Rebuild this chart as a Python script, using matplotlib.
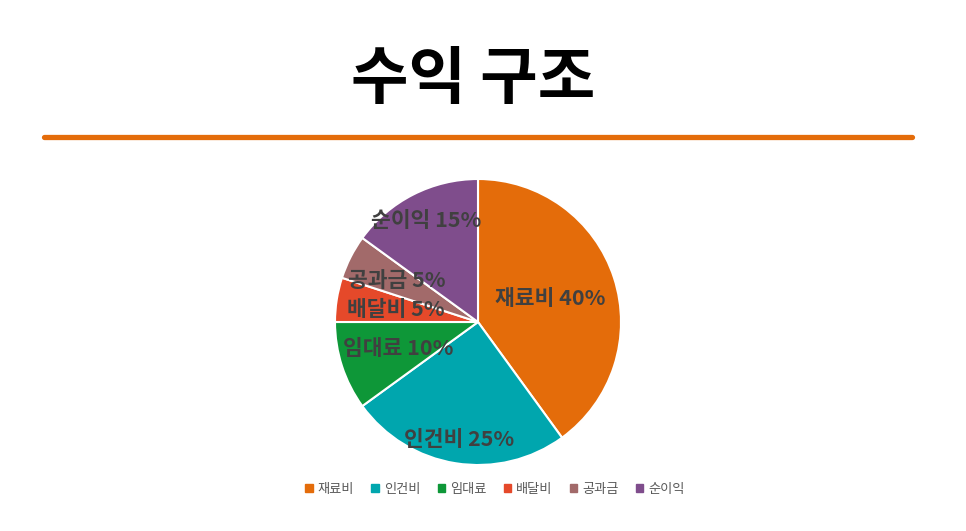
import matplotlib.pyplot as plt
from matplotlib.lines import Line2D
from matplotlib.patches import Patch
import numpy as np

plt.rcParams['font.family'] = ['Noto Sans CJK KR', 'DejaVu Sans']

# data
categories = ["재료비", "인건비", "임대료", "배달비", "공과금", "순이익"]
shares = [40, 25, 10, 5, 5, 15]
colors = ["#E46C0A", "#00A6AE", "#0E9738", "#E5492A", "#A26A6A", "#7F4D8C"]
title = "수익 구조"

# label distance from centre, as fraction of radius (layout only)
label_radius = [0.53, 0.83, 0.59, 0.58, 0.64, 0.80]

fig = plt.figure(figsize=(9.66, 5.31), dpi=100)
fig.patch.set_facecolor("white")

# title and divider line
fig.text(473 / 966, 1 - 80 / 531, title, ha="center", va="center",
         fontsize=45, fontweight="bold", color="black")
fig.add_artist(Line2D([44 / 966, 912 / 966], [1 - 137 / 531, 1 - 137 / 531],
                      color="#E46C0A", linewidth=3.8, solid_capstyle="round"))

# pie axes: centre (478, 322), radius 143 px
cx, cy, r = 478, 322, 143
ax = fig.add_axes([(cx - r) / 966, (531 - cy - r) / 531, 2 * r / 966, 2 * r / 531])
wedges, _ = ax.pie(shares, colors=colors, startangle=90, counterclock=False,
                   wedgeprops=dict(edgecolor="white", linewidth=1.5))
ax.set_xlim(-1, 1)
ax.set_ylim(-1, 1)
ax.set_aspect("equal")
ax.axis("off")

for w, name, val, d in zip(wedges, categories, shares, label_radius):
    ang = np.deg2rad((w.theta1 + w.theta2) / 2)
    ax.text(d * np.cos(ang), d * np.sin(ang), f"{name} {val}%",
            ha="center", va="center", fontsize=15.5, fontweight="bold",
            color="#404040")

# legend
handles = [Patch(facecolor=c, edgecolor=c) for c in colors]
fig.legend(handles, categories, loc="center", bbox_to_anchor=(495 / 966, 1 - 489 / 531),
           ncol=6, frameon=False, fontsize=9.5, labelcolor="#595959",
           handlelength=0.55, handleheight=0.55, handletextpad=0.4, columnspacing=1.3)

fig.savefig("out.png", dpi=100, facecolor="white")
